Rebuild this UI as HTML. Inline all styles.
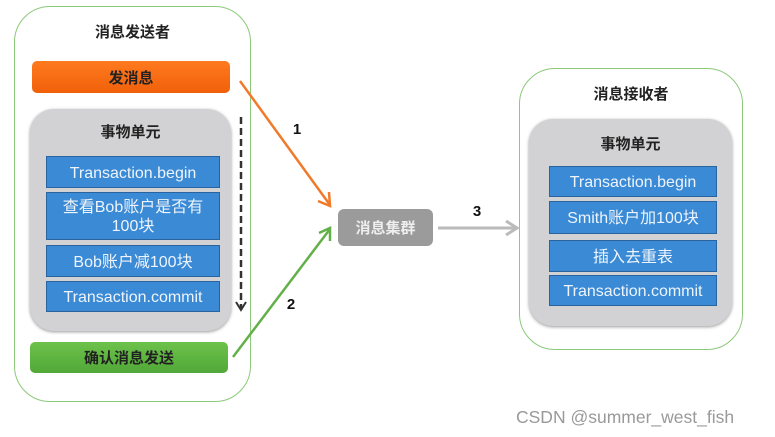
<!DOCTYPE html>
<html><head><meta charset="utf-8"><style>
body{margin:0;width:775px;height:437px;background:#fff;overflow:hidden;position:relative;font-family:"Liberation Sans","Noto Sans CJK SC",sans-serif}
.a{position:absolute;box-sizing:border-box;display:flex;align-items:center;justify-content:center;text-align:center}
.outer{border:1.5px solid #8cc97a;border-radius:36px}
.gray{background:#d2d2d4;border-radius:24px;box-shadow:0 1px 3px #999}
.blue{background:#3a8ad6;border:1.5px solid #2a64a0;color:#eef4fb;font-size:16px;line-height:19px;padding-top:2px}
.t{font-size:15px;color:#222;font-weight:bold}
</style></head><body>
<div class="a outer" style="left:14px;top:6px;width:237px;height:396px"></div>
<div class="a t" style="left:14px;top:20px;width:237px;height:22px">消息发送者</div>
<div class="a" style="left:32px;top:61px;width:198px;height:32px;background:linear-gradient(#ff7a1e,#f0600a);border-radius:5px;font-size:15px;color:#222;font-weight:bold">发消息</div>
<div class="a gray" style="left:30px;top:109px;width:201px;height:222px"></div>
<div class="a t" style="left:30px;top:120px;width:201px;height:22px">事物单元</div>
<div class="a blue" style="left:46px;top:156px;width:174px;height:32px">Transaction.begin</div>
<div class="a blue" style="left:46px;top:192px;width:174px;height:48px">查看Bob账户是否有<br>100块</div>
<div class="a blue" style="left:46px;top:245px;width:174px;height:32px">Bob账户减100块</div>
<div class="a blue" style="left:46px;top:281px;width:174px;height:31px">Transaction.commit</div>
<div class="a" style="left:30px;top:342px;width:198px;height:31px;background:linear-gradient(#6cc24a,#52a838);border-radius:5px;font-size:15px;color:#222;font-weight:bold">确认消息发送</div>

<div class="a" style="left:338px;top:209px;width:95px;height:37px;background:#9b9b9b;border-radius:6px;color:#eee;font-size:15px;font-weight:bold">消息集群</div>

<div class="a outer" style="left:519px;top:68px;width:224px;height:282px"></div>
<div class="a t" style="left:519px;top:82px;width:224px;height:22px">消息接收者</div>
<div class="a gray" style="left:529px;top:119px;width:203px;height:207px"></div>
<div class="a t" style="left:529px;top:132px;width:203px;height:22px">事物单元</div>
<div class="a blue" style="left:549px;top:166px;width:168px;height:31px">Transaction.begin</div>
<div class="a blue" style="left:549px;top:201px;width:168px;height:33px">Smith账户加100块</div>
<div class="a blue" style="left:549px;top:240px;width:168px;height:32px">插入去重表</div>
<div class="a blue" style="left:549px;top:275px;width:168px;height:31px">Transaction.commit</div>

<svg style="position:absolute;left:0;top:0" width="775" height="437">
<line x1="241" y1="117" x2="241" y2="308" stroke="#333" stroke-width="2.5" stroke-dasharray="7,4"/>
<polyline points="236,302 241,310 246,302" fill="none" stroke="#333" stroke-width="2"/>
<line x1="240" y1="81" x2="330" y2="205" stroke="#f07a2a" stroke-width="2.5"/>
<polyline points="318,201 330,206 329,192" fill="none" stroke="#f07a2a" stroke-width="2.5"/>
<line x1="233" y1="357" x2="330" y2="229" stroke="#63b04a" stroke-width="2.5"/>
<polyline points="319,233 330,228 330,241" fill="none" stroke="#63b04a" stroke-width="2.5"/>
<line x1="438" y1="228" x2="518" y2="228" stroke="#bbb" stroke-width="3"/>
<polyline points="506,221 517,228 506,235" fill="none" stroke="#bbb" stroke-width="3"/>
<text x="297" y="134" font-size="15" font-weight="bold" text-anchor="middle" font-family="Liberation Sans" fill="#111">1</text>
<text x="291" y="309" font-size="15" font-weight="bold" text-anchor="middle" font-family="Liberation Sans" fill="#111">2</text>
<text x="477" y="216" font-size="15" font-weight="bold" text-anchor="middle" font-family="Liberation Sans" fill="#111">3</text>
</svg>
<div style="position:absolute;left:516px;top:407px;font-size:17.5px;color:#999;white-space:nowrap">CSDN @summer_west_fish</div>
</body></html>
